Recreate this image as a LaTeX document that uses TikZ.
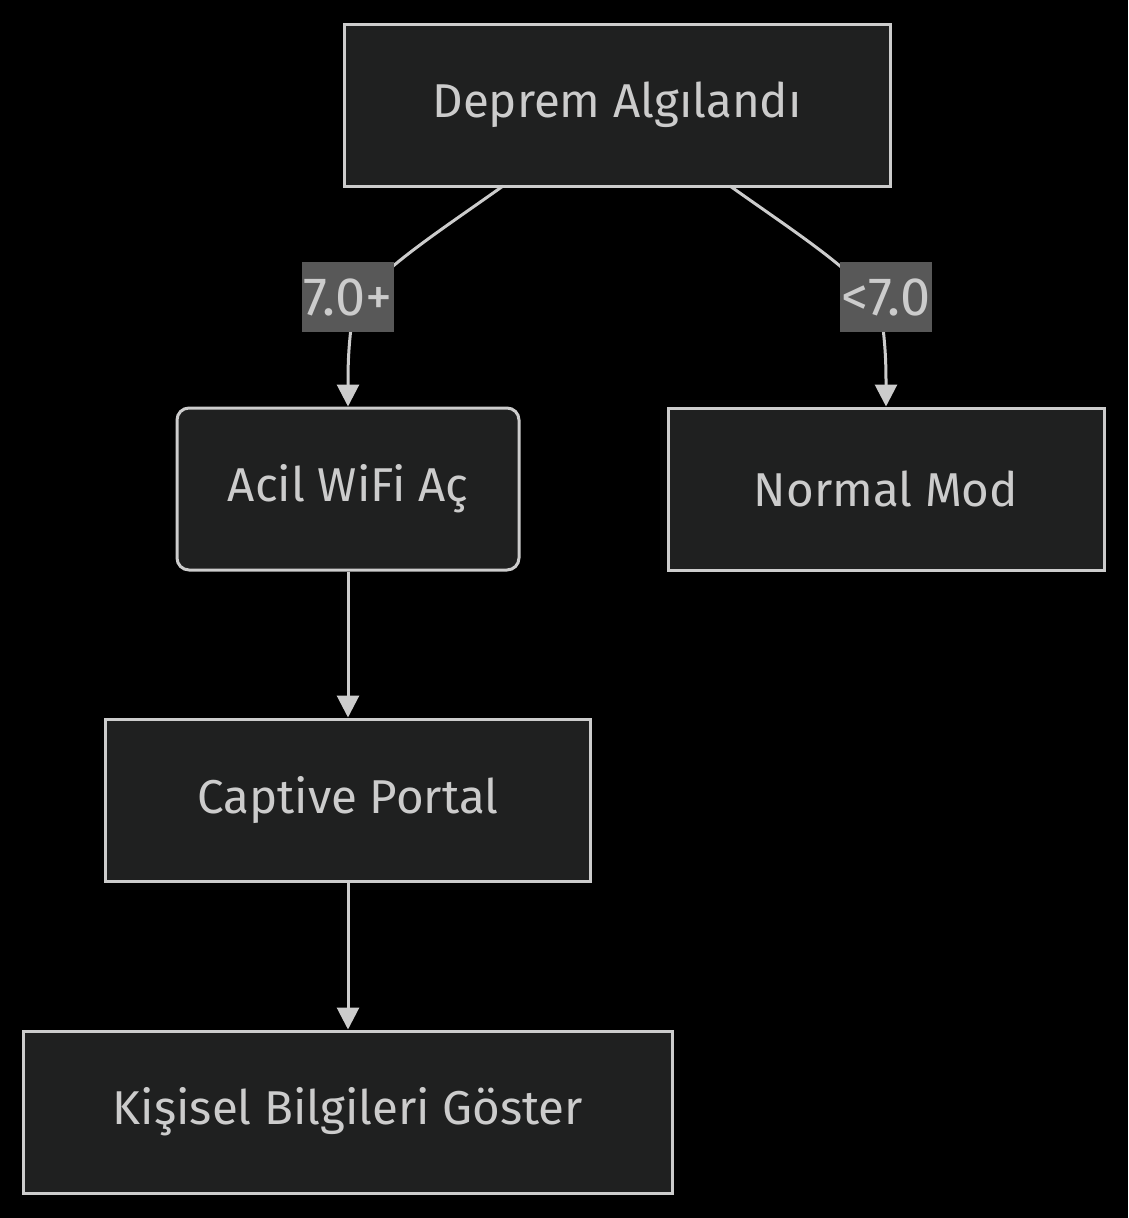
\documentclass[tikz,border=0pt]{standalone}
\usepackage{fontspec}
\setmainfont{Fira Sans}
\usetikzlibrary{arrows.meta}
\definecolor{bgc}{HTML}{000000}
\definecolor{nodefill}{HTML}{1F2020}
\definecolor{linec}{HTML}{CCCCCC}
\definecolor{txt}{HTML}{CCCCCC}
\definecolor{lblbg}{HTML}{585858}
\begin{document}
\begin{tikzpicture}[x=1pt,y=-1pt,
  box/.style={draw=linec,fill=nodefill,line width=3pt,text=txt,font=\fontsize{47.5}{52}\selectfont,inner sep=0pt},
  lbl/.style={fill=lblbg,text=txt,font=\fontsize{54}{58}\selectfont,inner sep=0pt,minimum height=70pt},
  edge/.style={draw=linec,line width=3pt,-{Triangle[length=22pt,width=22pt]}}]
\fill[bgc] (0,0) rectangle (1128,1218);
\useasboundingbox (0,0) rectangle (1128,1218);
\node[box,minimum width=546pt,minimum height=162pt] (dep) at (617,105) {Deprem Algılandı};
\node[box,rounded corners=12pt,minimum width=342pt,minimum height=162pt] (acil) at (348,489) {Acil WiFi Aç};
\node[box,minimum width=436pt,minimum height=162pt] (norm) at (886,489) {Normal Mod};
\node[box,minimum width=485pt,minimum height=162pt] (cap) at (348,800) {Captive Portal};
\node[box,minimum width=649pt,minimum height=162pt] (kis) at (348,1112) {Kişisel Bilgileri Göster};
\coordinate (s1) at (503,186);
\coordinate (s2) at (730,186);
\draw[edge] (s1) .. controls (430,238) and (355,285) .. (352,320) .. controls (348,350) and (348,370) .. (acil.north);
\draw[edge] (s2) .. controls (803,238) and (878,285) .. (882,320) .. controls (886,350) and (886,370) .. (norm.north);
\node[lbl,minimum width=92pt] (l1) at (348,297) {7.0+};
\node[lbl,minimum width=92pt] (l2) at (886,297) {<7.0};
\draw[edge] (acil.south) -- (cap.north);
\draw[edge] (cap.south) -- (kis.north);
\end{tikzpicture}
\end{document}
